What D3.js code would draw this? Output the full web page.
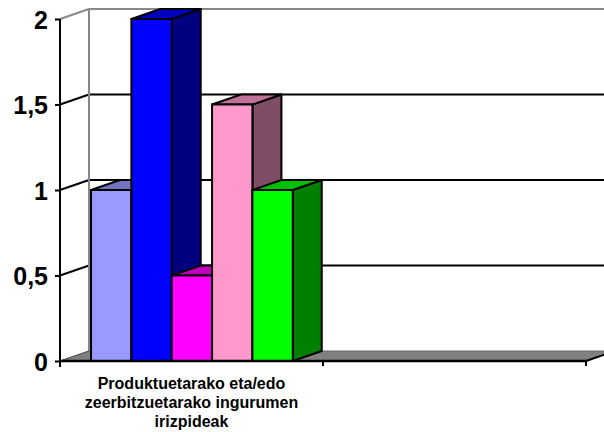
<!DOCTYPE html>
<html><head><meta charset="utf-8">
<script src="https://cdn.jsdelivr.net/npm/d3@7"></script>
<style>html,body{margin:0;padding:0;background:#fff}svg{display:block}</style>
</head><body><svg id="c" width="604" height="432"></svg>
<script>
const categories = ["Produktuetarako eta/edo zeerbitzuetarako ingurumen irizpideak", ""];
const categoryLines = [["Produktuetarako eta/edo", "zeerbitzuetarako ingurumen", "irizpideak"], []];
const series = ["s1", "s2", "s3", "s4", "s5"];
const values = [[1, 2, 0.5, 1.5, 1], [null, null, null, null, null]];
const colors = ["#9999FF", "#0000FF", "#FF00FF", "#FF99CC", "#00FF00"];
const yTicks = [0, 0.5, 1, 1.5, 2];

(function () {
const svg = d3.select("#c");
const W = 604;
const pLeft = 60, pRight = 586, pTop = 19, pBottom = 361;
const dx = 29, dy = -10;

const y = d3.scaleLinear().domain([0, 2]).range([pBottom, pTop]);
const x0 = d3.scaleBand().domain(categories.map((d, i) => i)).range([pLeft, pRight]);
const bw = x0.bandwidth();
const x1 = d3.scaleBand().domain(series).range([bw * 0.118, bw * 0.885]);

const shade = (c, k) => { const o = d3.rgb(c); return d3.rgb(o.r * k, o.g * k, o.b * k).formatHex(); };

const g = svg.append("g");
g.append("rect").attr("x", pLeft + dx).attr("y", pTop + dy).attr("width", W).attr("height", pBottom - pTop).attr("fill", "#fff");
yTicks.forEach(t => {
  const yy = y(t);
  const col = (t === 2) ? "#888" : "#000";
  if (t > 0) {
    g.append("line").attr("x1", pLeft + dx).attr("x2", W + 10).attr("y1", yy + dy).attr("y2", yy + dy)
      .attr("stroke", col).attr("stroke-width", 2);
    g.append("line").attr("x1", pLeft).attr("y1", yy).attr("x2", pLeft + dx).attr("y2", yy + dy)
      .attr("stroke", col).attr("stroke-width", 2);
  }
});
g.append("line").attr("x1", pLeft + dx).attr("x2", pLeft + dx).attr("y1", y(2) + dy).attr("y2", y(0) + dy)
  .attr("stroke", "#888").attr("stroke-width", 2);

g.append("polygon")
  .attr("points", [[pLeft, pBottom], [pRight, pBottom], [pRight + dx, pBottom + dy], [pLeft + dx, pBottom + dy]].map(p => p.join(",")).join(" "))
  .attr("fill", "#808080").attr("stroke", "#666").attr("stroke-width", 1);
g.append("line").attr("x1", pLeft).attr("y1", pBottom).attr("x2", pLeft + dx).attr("y2", pBottom + dy)
  .attr("stroke", "#555").attr("stroke-width", 1);
g.append("line").attr("x1", pRight).attr("y1", pBottom).attr("x2", pRight + dx).attr("y2", pBottom + dy)
  .attr("stroke", "#000").attr("stroke-width", 2);

const bars = svg.append("g");
const pt = p => p.map(q => q.join(",")).join(" ");
values.forEach((row, ci) => {
  row.forEach((v, si) => {
    if (v == null) return;
    const xa = x0(ci) + x1(series[si]);
    const xb = xa + x1.bandwidth();
    const yt = y(v), yb = y(0);
    const c = colors[si];
    bars.append("polygon").attr("points", pt([[xb, yt], [xb + dx, yt + dy], [xb + dx, yb + dy], [xb, yb]]))
      .attr("fill", shade(c, 0.5)).attr("stroke", "#000").attr("stroke-width", 2).attr("stroke-linejoin", "round");
    bars.append("polygon").attr("points", pt([[xa, yt], [xa + dx, yt + dy], [xb + dx, yt + dy], [xb, yt]]))
      .attr("fill", shade(c, 0.75)).attr("stroke", "#000").attr("stroke-width", 2).attr("stroke-linejoin", "round");
    bars.append("rect").attr("x", xa).attr("y", yt).attr("width", xb - xa).attr("height", yb - yt)
      .attr("fill", c).attr("stroke", "#000").attr("stroke-width", 2);
  });
});

const yAxis = svg.append("g").attr("transform", `translate(${pLeft},0)`)
  .call(d3.axisLeft(y).tickValues(yTicks).tickSize(5).tickPadding(7).tickFormat(d => String(d).replace(".", ",")));
yAxis.select(".domain").attr("stroke", "#000").attr("stroke-width", 2).attr("d", `M0,${pTop}V${pBottom + 6}`);
yAxis.selectAll(".tick line").attr("stroke", "#000").attr("stroke-width", 2);
yAxis.selectAll(".tick text").attr("font-family", "Liberation Sans, Arial, sans-serif").attr("font-size", 25)
  .attr("font-weight", "bold").attr("fill", "#000").attr("dy", "0.36em");

const xg = svg.append("g");
xg.append("line").attr("x1", pLeft).attr("x2", pRight).attr("y1", pBottom).attr("y2", pBottom).attr("stroke", "#000").attr("stroke-width", 2.4);
const bounds = [x0(0)].concat(categories.map((d, i) => x0(i) + bw));
bounds.forEach(b => xg.append("line").attr("x1", b).attr("x2", b).attr("y1", pBottom).attr("y2", pBottom + 5).attr("stroke", "#000").attr("stroke-width", 2));
categories.forEach((d, i) => {
  const t = xg.append("text").attr("x", x0(i) + bw / 2).attr("y", pBottom + 28)
    .attr("text-anchor", "middle").attr("font-family", "Liberation Sans, Arial, sans-serif")
    .attr("font-size", 16).attr("font-weight", "bold").attr("fill", "#000");
  categoryLines[i].forEach((ln, k) => t.append("tspan").attr("x", x0(i) + bw / 2).attr("dy", k === 0 ? 0 : 19).text(ln));
});
})();
</script></body></html>
